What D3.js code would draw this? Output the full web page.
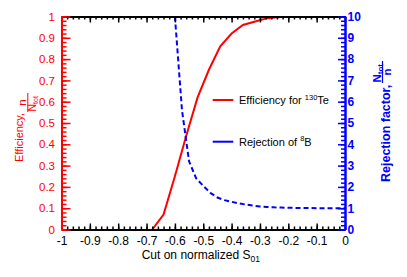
<!DOCTYPE html>
<html lang="en">
<head>
<meta charset="UTF-8">
<title>Efficiency and rejection vs cut</title>
<script src="https://d3js.org/d3.v7.min.js"></script>
<style>
    body { margin: 0; background: #fff; }
    svg text { font-family: "Liberation Sans", Arial, sans-serif; }
</style>
</head>
<body>
<div id="chart"></div>
<script>
// ---- data ----
const effCut = [-0.68, -0.64, -0.60, -0.56, -0.52, -0.48, -0.44, -0.40, -0.36, -0.32, -0.28, -0.24, -0.20, -0.10, 0];
const effVal = [0.0, 0.07, 0.25, 0.44, 0.62, 0.75, 0.86, 0.92, 0.96, 0.975, 0.99, 0.997, 1.0, 1.0, 1.0];

const rejCut = [-0.6, -0.575, -0.55, -0.525, -0.5, -0.475, -0.45, -0.425, -0.4, -0.375, -0.35, -0.325, -0.3,
                -0.275, -0.25, -0.225, -0.2, -0.175, -0.15, -0.125, -0.1, -0.075, -0.05, -0.025, 0];
const rejVal = [10.0, 5.6, 3.2, 2.4, 2.05, 1.72, 1.5, 1.38, 1.3, 1.23, 1.17, 1.12, 1.08,
                1.06, 1.04, 1.03, 1.02, 1.015, 1.01, 1.005, 1.0, 1.0, 1.0, 1.0, 1.0];

const xTicks = [-1, -0.9, -0.8, -0.7, -0.6, -0.5, -0.4, -0.3, -0.2, -0.1, 0];
const effTicks = [0, 0.1, 0.2, 0.3, 0.4, 0.5, 0.6, 0.7, 0.8, 0.9, 1];
const rejTicks = [0, 1, 2, 3, 4, 5, 6, 7, 8, 9, 10];

// ---- layout ----
const W = 407, H = 277;
const plotL = 61.5, plotR = 345, plotT = 16.5, plotB = 229.5;

const svg = d3.select("#chart").append("svg")
    .attr("width", W).attr("height", H);

const x = d3.scaleLinear().domain([-1, 0]).range([plotL, plotR]);
const yL = d3.scaleLinear().domain([0, 1]).range([plotB, plotT]);
const yR = d3.scaleLinear().domain([0, 10]).range([plotB, plotT]);

svg.append("clipPath").attr("id", "plot")
   .append("rect").attr("x", plotL).attr("y", plotT)
   .attr("width", plotR - plotL).attr("height", plotB - plotT);

// ---- curves ----
const effData = effCut.map((c, i) => ({ c: c, v: effVal[i] }));
const rejData = rejCut.map((c, i) => ({ c: c, v: rejVal[i] }));

svg.append("path")
   .datum(effData)
   .attr("clip-path", "url(#plot)")
   .attr("fill", "none").attr("stroke", "#ff0000").attr("stroke-width", 2)
   .attr("d", d3.line().x(d => x(d.c)).y(d => yL(d.v)));

svg.append("path")
   .datum(rejData)
   .attr("clip-path", "url(#plot)")
   .attr("fill", "none").attr("stroke", "#0000ff").attr("stroke-width", 2)
   .attr("stroke-dasharray", "5,3")
   .attr("d", d3.line().x(d => x(d.c)).y(d => yR(d.v)));

// ---- axes ----
const xMinor = d3.range(-50, 1).map(d => d / 50);
const effMinor = d3.range(0, 51).map(d => d / 50);
const rejMinor = d3.range(0, 51).map(d => d / 5);

// plain hyphen-minus like the original, not the unicode minus d3 uses
const plain = d => String(d);

function styleAxis(g, color, width) {
    g.select(".domain").attr("stroke", color).attr("stroke-width", width);
    g.selectAll(".tick line").attr("stroke", color).attr("stroke-width", 1.5);
}

// bottom
svg.append("g").attr("transform", `translate(0,${plotB})`)
   .call(d3.axisBottom(x).tickValues(xMinor).tickFormat("").tickSizeInner(-3).tickSizeOuter(0))
   .call(g => styleAxis(g, "#000", 2));
svg.append("g").attr("transform", `translate(0,${plotB})`)
   .call(d3.axisBottom(x).tickValues(xTicks).tickFormat(plain)
         .tickSizeInner(-6).tickSizeOuter(0).tickPadding(7))
   .call(g => styleAxis(g, "#000", 2))
   .call(g => g.selectAll("text").attr("font-size", 12).attr("fill", "#000")
         .attr("font-family", "Liberation Sans, Arial, sans-serif"));

// top
svg.append("g").attr("transform", `translate(0,${plotT})`)
   .call(d3.axisTop(x).tickValues(xMinor).tickFormat("").tickSizeInner(-3).tickSizeOuter(0))
   .call(g => styleAxis(g, "#000", 2));
svg.append("g").attr("transform", `translate(0,${plotT})`)
   .call(d3.axisTop(x).tickValues(xTicks).tickFormat("").tickSizeInner(-6).tickSizeOuter(0))
   .call(g => styleAxis(g, "#000", 2));

// left (efficiency)
svg.append("g").attr("transform", `translate(${plotL},0)`)
   .call(d3.axisLeft(yL).tickValues(effMinor).tickFormat("").tickSizeInner(-5).tickSizeOuter(0))
   .call(g => styleAxis(g, "#ff0000", 2));
svg.append("g").attr("transform", `translate(${plotL},0)`)
   .call(d3.axisLeft(yL).tickValues(effTicks).tickFormat(plain).tickSizeInner(-9).tickSizeOuter(0).tickPadding(6.5))
   .call(g => styleAxis(g, "#ff0000", 2))
   .call(g => g.selectAll("text").attr("font-size", 11.5).attr("fill", "#ff0000")
         .attr("font-family", "Liberation Sans, Arial, sans-serif"));

// right (rejection)
svg.append("g").attr("transform", `translate(${plotR},0)`)
   .call(d3.axisRight(yR).tickValues(rejMinor).tickFormat("").tickSizeInner(-4).tickSizeOuter(0))
   .call(g => styleAxis(g, "#0000ff", 2));
svg.append("g").attr("transform", `translate(${plotR},0)`)
   .call(d3.axisRight(yR).tickValues(rejTicks).tickFormat(plain).tickSizeInner(-7).tickSizeOuter(0).tickPadding(2.5))
   .call(g => styleAxis(g, "#0000ff", 2))
   .call(g => g.selectAll("text").attr("font-size", 12).attr("font-weight", "bold").attr("fill", "#0000ff")
         .attr("font-family", "Liberation Sans, Arial, sans-serif"));

// ---- axis titles ----
const xt = svg.append("text")
   .attr("x", 141.7).attr("y", 258.5).attr("font-size", 12).attr("fill", "#000");
xt.append("tspan").text("Cut on normalized S");
xt.append("tspan").attr("font-size", 8.5).attr("dy", 3).text("01");

// left title, rotated
const lt = svg.append("g").attr("transform", "translate(23.3,162) rotate(-90)")
   .attr("fill", "#ff0000");
lt.append("text").attr("x", 0).attr("y", 0).attr("font-size", 11).text("Efficiency,");
lt.append("text").attr("x", 59.5).attr("y", 2.5).attr("font-size", 11.5)
   .attr("text-anchor", "middle").text("n");
lt.append("line").attr("x1", 50).attr("x2", 69).attr("y1", 4.5).attr("y2", 4.5)
   .attr("stroke", "#ff0000").attr("stroke-width", 1);
const ltd = lt.append("text").attr("x", 50.5).attr("y", 12.5).attr("font-size", 10.5);
ltd.append("tspan").text("N");
ltd.append("tspan").attr("font-size", 7).attr("dy", 2).text("tot");

// right title, rotated
const rt = svg.append("g").attr("transform", "translate(390,182) rotate(-90)")
   .attr("fill", "#0000ff").attr("font-weight", "bold");
rt.append("text").attr("x", 0).attr("y", 0).attr("font-size", 12.5).text("Rejection factor,");
const rtn = rt.append("text").attr("x", 99.5).attr("y", -9.5).attr("font-size", 11.5);
rtn.append("tspan").text("N");
rtn.append("tspan").attr("font-size", 8).attr("dy", 2).text("tot");
rt.append("line").attr("x1", 99).attr("x2", 121).attr("y1", -7.5).attr("y2", -7.5)
   .attr("stroke", "#0000ff").attr("stroke-width", 1.2);
rt.append("text").attr("x", 110).attr("y", 0.5).attr("font-size", 11.5)
   .attr("text-anchor", "middle").text("n");

// ---- legend ----
const legend = [
    { color: "#ff0000", y: 100, parts: [["Efficiency for ", 0], ["130", 1], ["Te", 0]] },
    { color: "#0000ff", y: 141.7, parts: [["Rejection of ", 0], ["8", 1], ["B", 0]] }
];
legend.forEach(item => {
    svg.append("line")
       .attr("x1", 212.7).attr("x2", 233.3).attr("y1", item.y).attr("y2", item.y)
       .attr("stroke", item.color).attr("stroke-width", 2);
    const t = svg.append("text").attr("x", 239).attr("y", item.y + 4)
       .attr("font-size", 11).attr("fill", "#000");
    let raised = false;
    item.parts.forEach(p => {
        const sp = t.append("tspan").text(p[0]);
        if (p[1] && !raised) { sp.attr("font-size", 7.5).attr("dy", -4.5); raised = true; }
        else if (!p[1] && raised) { sp.attr("dy", 4.5); raised = false; }
    });
});
</script>
</body>
</html>
